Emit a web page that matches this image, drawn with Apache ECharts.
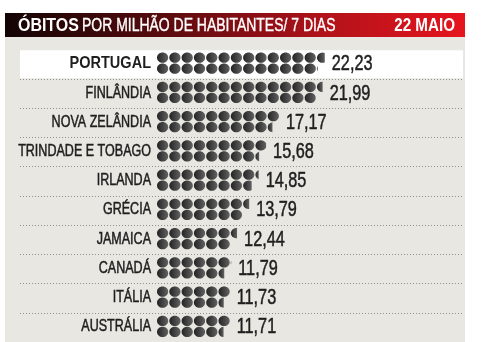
<!DOCTYPE html>
<html>
<head>
<meta charset="utf-8">
<script src="https://cdn.jsdelivr.net/npm/echarts@6/dist/echarts.min.js"></script>
<style>
  html, body { margin: 0; padding: 0; background: #ffffff; }
  #chart { width: 485px; height: 342px; }
</style>
</head>
<body>
<div id="chart"></div>
<script>
// Weekly COVID-19 deaths per million inhabitants, 22 May
const countries = ['PORTUGAL', 'FINLÂNDIA', 'NOVA ZELÂNDIA', 'TRINDADE E TOBAGO', 'IRLANDA',
                   'GRÉCIA', 'JAMAICA', 'CANADÁ', 'ITÁLIA', 'AUSTRÁLIA'];
const deathsPerMillion = [22.23, 21.99, 17.17, 15.68, 14.85, 13.79, 12.44, 11.79, 11.73, 11.71];
const highlighted = 'PORTUGAL';
const titleBold = 'ÓBITOS';
const titleRest = 'POR MILHÃO DE HABITANTES/ 7 DIAS';
const dateLabel = '22 MAIO';

// Value-axis range behind the dot rows
const AXIS_MIN = 3.5;
const AXIS_MAX = 39;

// Dot geometry
const DOT_PITCH = 12.3;
const DOT_RX = 5.6;
const DOT_RY = 5.1;
const ROW_OFFSET = 5.5;
const LOWER_ROW_LAG = 7;

const FONT = '"Liberation Sans", Arial, sans-serif';
const INK = '#1e1e1e';

const dotFill = {
  type: 'linear', x: 0, y: 0, x2: 1, y2: 0,
  colorStops: [{ offset: 0, color: '#232323' }, { offset: 1, color: '#626262' }]
};

// One dot, clipped on the right at x = cut when the value ends inside it
function dot(cx, cy, cut) {
  if (cut >= cx + DOT_RX) {
    return { type: 'ellipse', shape: { cx: cx, cy: cy, rx: DOT_RX, ry: DOT_RY },
             style: { fill: dotFill } };
  }
  const dx = cut - cx;
  const h = DOT_RY * Math.sqrt(Math.max(0, 1 - (dx / DOT_RX) * (dx / DOT_RX)));
  const large = dx > 0 ? 1 : 0;
  return {
    type: 'path',
    shape: { pathData: 'M' + cut + ' ' + (cy - h) + ' A' + DOT_RX + ' ' + DOT_RY + ' 0 ' + large +
             ' 0 ' + cut + ' ' + (cy + h) + ' Z' },
    style: { fill: dotFill }
  };
}

function renderRow(params, api) {
  const value = api.value(0);
  const idx = api.value(1);
  const start = api.coord([AXIS_MIN, idx]);
  const end = api.coord([value, idx]);
  const yc = end[1] - 1;
  const children = [];

  const rows = [
    { cy: yc - ROW_OFFSET, limit: end[0] },
    { cy: yc + ROW_OFFSET, limit: end[0] - LOWER_ROW_LAG }
  ];
  let drawnEnd = start[0];
  rows.forEach(function (row) {
    for (let cx = start[0] + DOT_RX; cx - DOT_RX < row.limit; cx += DOT_PITCH) {
      children.push(dot(cx, row.cy, row.limit));
      drawnEnd = Math.max(drawnEnd, Math.min(row.limit, cx + DOT_RX));
    }
  });

  const name = countries[idx];
  const bold = name === highlighted;
  children.push({
    type: 'text', x: start[0] - 6, y: yc + 0.5,
    scaleX: bold ? 0.88 : 0.76,
    style: { text: name, fill: INK, align: 'right', verticalAlign: 'middle',
             font: (bold ? 'bold ' : '') + '16.5px ' + FONT,
             stroke: bold ? null : INK, lineWidth: 0.5 }
  });
  children.push({
    type: 'text', x: drawnEnd + 7, y: yc + 1,
    scaleX: 0.74,
    style: { text: value.toFixed(2).replace('.', ','), fill: INK, align: 'left',
             verticalAlign: 'middle', font: '22px ' + FONT,
             stroke: INK, lineWidth: 0.5 }
  });
  return { type: 'group', children: children };
}

const chart = echarts.init(document.getElementById('chart'), null, { renderer: 'canvas' });

chart.setOption({
  animation: false,
  backgroundColor: '#ffffff',
  graphic: [
    { type: 'rect', z: -10, shape: { x: 5, y: 37, width: 460, height: 310 },
      style: { fill: '#e8e7e1' } },
    { type: 'rect', z: -10, shape: { x: 5, y: 13, width: 460, height: 24 },
      style: { fill: { type: 'linear', x: 0, y: 0, x2: 1, y2: 0,
        colorStops: [{ offset: 0, color: '#120404' }, { offset: 0.35, color: '#5a0b0e' },
                     { offset: 0.7, color: '#b3121a' }, { offset: 1, color: '#e6151e' }] } } },
    { type: 'text', x: 18, y: 26, scaleX: 0.84,
      style: { text: titleBold, fill: '#ffffff', font: 'bold 19px ' + FONT,
               verticalAlign: 'middle' } },
    { type: 'text', x: 82, y: 26, scaleX: 0.735,
      style: { text: titleRest, fill: '#ffffff', font: '19px ' + FONT,
               verticalAlign: 'middle', stroke: '#ffffff', lineWidth: 0.4 } },
    { type: 'text', x: 455, y: 26, scaleX: 0.8,
      style: { text: dateLabel, fill: '#ffffff', font: 'bold 19px ' + FONT,
               align: 'right', verticalAlign: 'middle' } }
  ],
  grid: [
    { left: 157, right: 10, top: 49.6, height: 297 },
    { left: 20, right: 22, top: 49.6, height: 297 }
  ],
  xAxis: [
    { type: 'value', gridIndex: 0, min: AXIS_MIN, max: AXIS_MAX, show: false },
    { type: 'value', gridIndex: 1, min: 0, max: 1, show: false }
  ],
  yAxis: [
    { type: 'category', gridIndex: 0, data: countries, inverse: true, show: false },
    { type: 'category', gridIndex: 1, data: countries, inverse: true,
      axisLine: { show: false }, axisTick: { show: false }, axisLabel: { show: false },
      splitLine: { show: true, showMinLine: false,
                   lineStyle: { type: [1, 2], color: '#8f8f8f', width: 1 } } }
  ],
  series: [
    {
      type: 'bar', xAxisIndex: 1, yAxisIndex: 1, barWidth: 28, silent: true, z: 1,
      itemStyle: { color: '#ffffff' },
      data: countries.map(function (c) { return c === highlighted ? 1 : 0; })
    },
    {
      type: 'custom', xAxisIndex: 0, yAxisIndex: 0, z: 5,
      renderItem: renderRow,
      encode: { x: 0, y: 1 },
      data: deathsPerMillion.map(function (v, i) { return [v, i]; })
    }
  ]
});
</script>
</body>
</html>
